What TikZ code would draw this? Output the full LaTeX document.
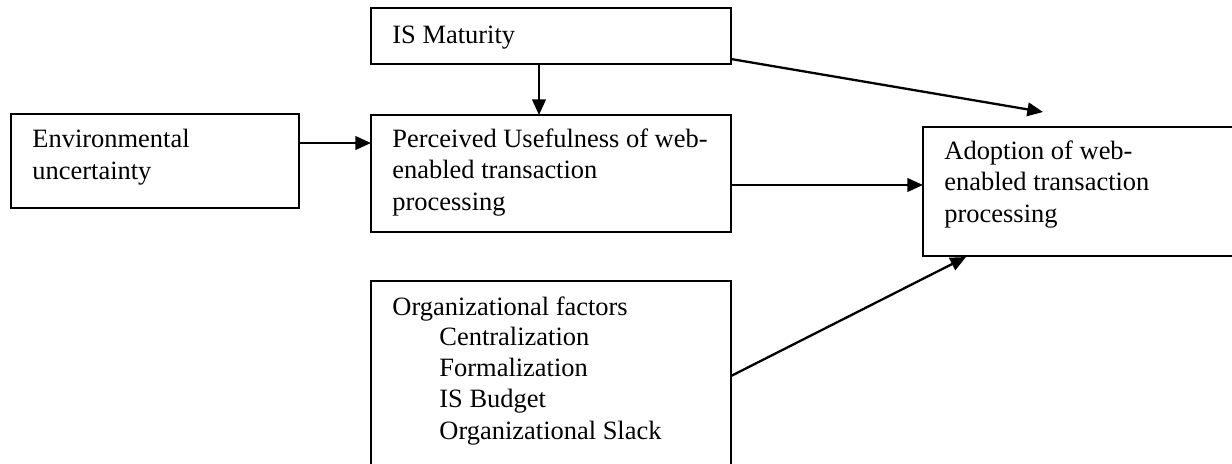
\documentclass[tikz,border=0pt]{standalone}
\usepackage{fontspec}
\setmainfont{Liberation Serif}
\usetikzlibrary{arrows.meta,calc}
\begin{document}
\begin{tikzpicture}[x=0.48pt,y=-0.48pt,
  box/.style={draw,line width=0.8pt,inner sep=0pt,outer sep=0pt,anchor=north west},
  txt/.style={anchor=base west,inner sep=0pt,align=left,font=\fontsize{12.7}{14.9}\selectfont},
  arr/.style={line width=1.1pt,-{Triangle[length=7.5pt,width=6.5pt]}}]
\clip (0,0) rectangle (1232,463);
% boxes
\node[box,minimum width=360*0.48pt,minimum height=56*0.48pt] (ism) at (371,8) {};
\node[box,minimum width=288*0.48pt,minimum height=94*0.48pt] (env) at (11,114) {};
\node[box,minimum width=360*0.48pt,minimum height=117*0.48pt] (pu) at (371,115) {};
\node[box,minimum width=320*0.48pt,minimum height=129*0.48pt] (ado) at (923,127) {};
\node[box,minimum width=360*0.48pt,minimum height=200*0.48pt] (org) at (371,281) {};
% texts (base anchor = baseline of last line)
\node[txt] (tism) at (392,43) {IS Maturity};
\node[txt] (tenv) at (32,179) {Environmental\\uncertainty};
\node[txt] (tpu) at (392,210) {Perceived Usefulness of web-\\enabled transaction\\processing};
\node[txt] (tado) at (944,222) {Adoption of web-\\enabled transaction\\processing};
\node[txt] (torg) at (392,315) {Organizational factors};
\node[txt] (torg2) at (439,439) {Centralization\\Formalization\\IS Budget\\Organizational Slack};
% connector ends
\coordinate (s0) at ($(ism.south)+(-12,0)$);
\coordinate (s1) at ($(env.north east)+(0,29)$);
\coordinate (s2) at ($(pu.north east)+(0,70)$);
\coordinate (s3) at ($(ism.north east)+(0,51)$);
\coordinate (s4) at ($(org.north east)+(0,95)$);
\coordinate (t1) at (1043,112);
\coordinate (t2) at (966,257);
% connectors
\draw[arr] (s0) -- (s0 |- pu.north);
\draw[arr] (s1) -- (s1 -| pu.west);
\draw[arr] (s2) -- (s2 -| ado.west);
\draw[arr] (s3) -- (t1);
\draw[arr] (s4) -- (t2);
\end{tikzpicture}
\end{document}
